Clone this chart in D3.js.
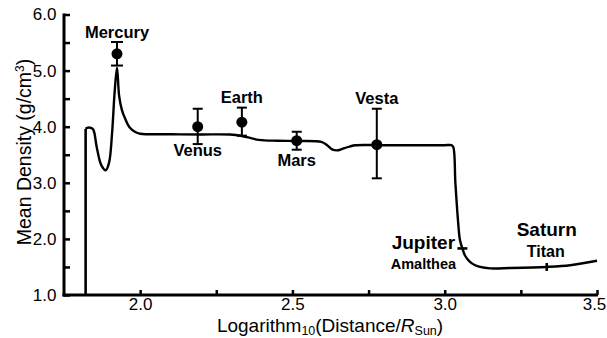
<!DOCTYPE html>
<html><head><meta charset="utf-8">
<script src="https://cdn.jsdelivr.net/npm/d3@7"></script>
<style>
html,body{margin:0;padding:0;background:#fff;}
svg{display:block;}
text{font-family:"Liberation Sans",Arial,Helvetica,sans-serif;fill:#000;}
</style></head>
<body><svg id="c" width="607" height="338"></svg>
<script>
// Model curve (log10 distance, mean density)
const curveX = [1.821,1.821,1.826,1.838,1.846,1.858,1.872,1.887,1.898,1.908,1.916,1.924,1.931,1.94,1.951,1.965,1.984,2.0,2.1,2.2,2.295,2.334,2.39,2.45,2.514,2.595,2.612,2.632,2.65,2.666,2.69,2.706,2.8,2.9,3.0,3.022,3.028,3.035,3.044,3.05,3.058,3.067,3.083,3.1,3.116,3.149,3.214,3.335,3.412,3.5];
const curveY = [1.0,3.96,3.98,3.98,3.95,3.62,3.32,3.224,3.36,3.9,4.6,5.05,4.55,4.3,4.14,3.99,3.905,3.875,3.865,3.862,3.86,3.835,3.765,3.75,3.746,3.73,3.68,3.59,3.58,3.61,3.65,3.67,3.67,3.67,3.67,3.67,3.64,3.0,2.3,1.98,1.83,1.70,1.59,1.53,1.50,1.475,1.48,1.50,1.53,1.61];

// Measured planets
const planetNames = ["Mercury","Venus","Earth","Mars","Vesta"];
const planetX = [1.924,2.189,2.334,2.514,2.777];
const planetY = [5.30,4.00,4.08,3.75,3.68];
const planetLo = [5.09,3.69,3.84,3.59,3.08];
const planetHi = [5.51,4.32,4.34,3.91,4.32];

// Gas giant markers
const giantNames = ["Jupiter","Saturn"];
const moonNames = ["Amalthea","Titan"];
const giantX = [3.058,3.335];
const giantY = [1.83,1.50];

const xTicks = [2.0,2.25,2.5,2.75,3.0,3.25,3.5];
const xTickLabels = ["2.0","","2.5","","3.0","","3.5"];
const yTicks = [1.0,1.5,2.0,2.5,3.0,3.5,4.0,4.5,5.0,5.5,6.0];
const yTickLabels = ["1.0","","2.0","","3.0","","4.0","","5.0","","6.0"];

const svg = d3.select("#c");
const x = d3.scaleLinear().domain([1.75,3.5]).range([64,597]);
const y = d3.scaleLinear().domain([1.0,6.0]).range([295,14.5]);

// model curve: straight vertical rise, then smooth curve
const pts = curveX.map((d,i)=>[d,curveY[i]]);
const lineLin = d3.line().x(d=>x(d[0])).y(d=>y(d[1]));
const lineSm = d3.line().x(d=>x(d[0])).y(d=>y(d[1])).curve(d3.curveCatmullRom.alpha(0.5));
svg.append("path").attr("d", lineLin(pts.slice(0,2)))
  .attr("fill","none").attr("stroke","#000").attr("stroke-width",2.6);
svg.append("path").attr("d", lineSm(pts.slice(1)))
  .attr("fill","none").attr("stroke","#000").attr("stroke-width",2.4).attr("stroke-linejoin","round");

// axes
const xAxis = d3.axisBottom(x).tickValues(xTicks).tickSizeInner(-5).tickSizeOuter(0).tickPadding(3)
  .tickFormat((d,i)=>xTickLabels[i]);
const gx = svg.append("g").attr("transform","translate(0,295)").call(xAxis);
const yAxis = d3.axisLeft(y).tickValues(yTicks).tickSizeInner(-6).tickSizeOuter(0).tickPadding(7.5)
  .tickFormat((d,i)=>yTickLabels[i]);
const gy = svg.append("g").attr("transform","translate(64,0)").call(yAxis);
[gx,gy].forEach(g=>{
  g.select(".domain").attr("stroke","#000").attr("stroke-width",3);
  g.selectAll(".tick line").attr("stroke","#000").attr("stroke-width",2.5);
  g.selectAll(".tick text").attr("font-size",17).attr("fill","#000")
    .style("font-family","'Liberation Sans',Arial,sans-serif");
});
gx.selectAll(".tick text").filter((d)=>d===3.5).attr("dx",-3);
gx.select(".domain").attr("d",`M${x(1.75)-1.5},0H${x(3.5)+1}`);
gy.select(".domain").attr("d",`M0,${y(1.0)+1.5}V${y(6.0)-1}`);

// error bars and points
const eb = svg.append("g").attr("stroke","#000").attr("stroke-width",2);
planetX.forEach((px,i)=>{
  const cx = x(px);
  eb.append("line").attr("x1",cx).attr("x2",cx).attr("y1",y(planetLo[i])).attr("y2",y(planetHi[i]));
  const cw = i===0 ? 6 : 5;
  eb.append("line").attr("x1",cx-cw).attr("x2",cx+cw).attr("y1",y(planetHi[i])).attr("y2",y(planetHi[i]));
  eb.append("line").attr("x1",cx-cw).attr("x2",cx+cw).attr("y1",y(planetLo[i])).attr("y2",y(planetLo[i]));
  svg.append("circle").attr("cx",cx).attr("cy",y(planetY[i])).attr("r",5.5).attr("fill","#000");
});

// planet labels
const labelDY = [-16,  29, -19, 25, -41];
planetNames.forEach((n,i)=>{
  svg.append("text").attr("x",x(planetX[i])).attr("y",y(planetY[i])+labelDY[i])
    .attr("text-anchor","middle").attr("font-size",16.5).attr("font-weight","bold").text(n);
});

// giant ticks
svg.append("line").attr("x1",x(giantX[0])-5).attr("x2",x(giantX[0])+5)
  .attr("y1",y(giantY[0])).attr("y2",y(giantY[0])).attr("stroke","#000").attr("stroke-width",2.6);
svg.append("line").attr("x1",x(giantX[1])).attr("x2",x(giantX[1]))
  .attr("y1",y(giantY[1])-4).attr("y2",y(giantY[1])+4).attr("stroke","#000").attr("stroke-width",2.6);

svg.append("text").attr("x",x(giantX[0])-39).attr("y",y(giantY[0])+1).attr("text-anchor","middle")
  .attr("font-size",19).attr("font-weight","bold").text(giantNames[0]);
svg.append("text").attr("x",x(giantX[0])-39).attr("y",y(giantY[0])+20.5).attr("text-anchor","middle")
  .attr("font-size",14.5).attr("font-weight","bold").text(moonNames[0]);
svg.append("text").attr("x",x(giantX[1])).attr("y",y(giantY[1])-31).attr("text-anchor","middle")
  .attr("font-size",19).attr("font-weight","bold").text(giantNames[1]);
svg.append("text").attr("x",x(giantX[1])-1).attr("y",y(giantY[1])-10).attr("text-anchor","middle")
  .attr("font-size",16).attr("font-weight","bold").text(moonNames[1]);

// axis titles
const xt = svg.append("text").attr("x",330).attr("y",332).attr("text-anchor","middle").attr("font-size",19);
xt.append("tspan").text("Logarithm");
xt.append("tspan").attr("font-size",12.5).attr("dy",3).text("10");
xt.append("tspan").attr("dy",-3).text("(Distance/");
xt.append("tspan").attr("font-style","italic").text("R");
xt.append("tspan").attr("font-size",12.5).attr("dy",3).text("Sun");
xt.append("tspan").attr("dy",-3).text(")");

const yt = svg.append("text").attr("transform","translate(31,152) rotate(-90)")
  .attr("text-anchor","middle").attr("font-size",19.5);
yt.append("tspan").text("Mean Density (g/cm");
yt.append("tspan").attr("font-size",12).attr("dy",-7).text("3");
yt.append("tspan").attr("dy",7).text(")");
</script></body></html>
